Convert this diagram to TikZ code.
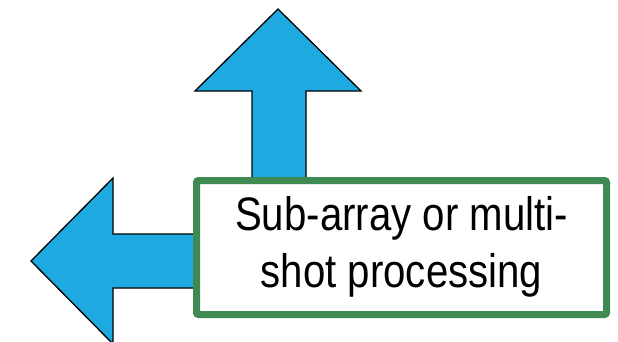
\documentclass[tikz,border=0pt]{standalone}
\usepackage{fontspec}
\setmainfont{Liberation Sans}[FakeStretch=0.855]
\usetikzlibrary{positioning}
\definecolor{arrowblue}{HTML}{1EAAE0}
\definecolor{boxgreen}{HTML}{3F8A53}
\begin{document}
\begin{tikzpicture}[x=1pt, y=-1pt,
  blockarrow/.style={draw=black, fill=arrowblue, line width=1.3pt, line join=miter},
  procbox/.style={draw=boxgreen, fill=white, line width=7pt, rounded corners=2pt,
    minimum width=410pt, minimum height=134pt, inner sep=0pt,
    font=\fontsize{47pt}{57pt}\selectfont}]
\useasboundingbox (0,0) rectangle (618,341);
\coordinate (upbase) at (279,177);
\coordinate (leftbase) at (193,261);
\draw[blockarrow] (upbase) ++(-27,0) -- ++(0,-86) -- ++(-57,0) -- (278,9)
  -- (361,91) -- ++(-55,0) -- ++(0,86);
\draw[blockarrow] (leftbase) ++(0,-27) -- ++(-80,0) -- ++(0,-56) -- (31,261)
  -- (113,344) -- ++(0,-56) -- ++(80,0);
\node[procbox](proc) at (401.5,247.5){\raisebox{-5pt}{\begin{tabular}{@{}c@{}}
Sub-array or multi-\\
shot processing
\end{tabular}}};
\end{tikzpicture}
\end{document}
